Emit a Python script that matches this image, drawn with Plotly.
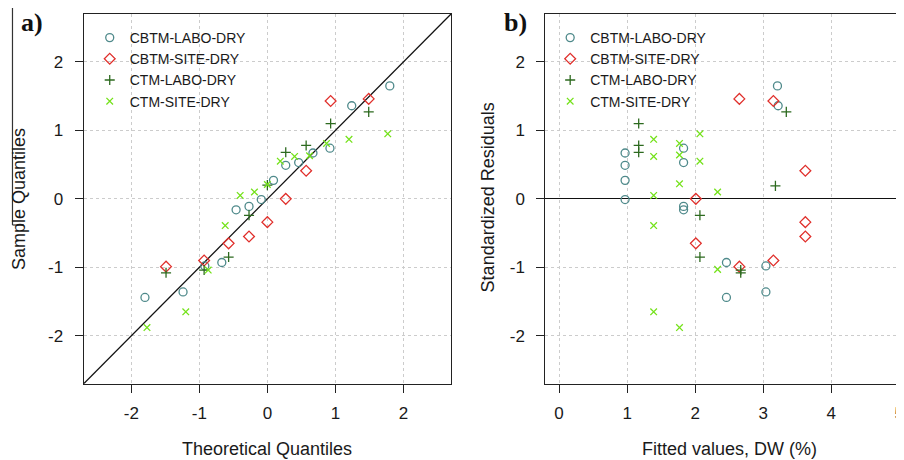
import plotly.graph_objects as go

# ---------------- data ----------------
series_names = ["CBTM-LABO-DRY", "CBTM-SITE-DRY", "CTM-LABO-DRY", "CTM-SITE-DRY"]

# Panel a) normal Q-Q plot: theoretical vs sample quantiles
cbtm_labo_theo = [-1.80, -1.24, -0.92, -0.67, -0.46, -0.27, -0.09, 0.09, 0.27, 0.46, 0.67, 0.92, 1.24, 1.80]
cbtm_labo_sample = [-1.44, -1.36, -0.98, -0.93, -0.16, -0.11, -0.01, 0.27, 0.49, 0.53, 0.67, 0.74, 1.36, 1.65]

cbtm_site_theo = [-1.49, -0.93, -0.57, -0.27, 0.00, 0.27, 0.57, 0.93, 1.49]
cbtm_site_sample = [-0.99, -0.90, -0.65, -0.55, -0.34, 0.00, 0.41, 1.43, 1.46]

ctm_labo_theo = [-1.49, -0.93, -0.57, -0.27, 0.00, 0.27, 0.57, 0.93, 1.49]
ctm_labo_sample = [-1.08, -1.04, -0.85, -0.24, 0.20, 0.68, 0.78, 1.10, 1.27]

ctm_site_theo = [-1.77, -1.20, -0.87, -0.62, -0.40, -0.19, 0.00, 0.19, 0.40, 0.62, 0.87, 1.20, 1.77]
ctm_site_sample = [-1.88, -1.65, -1.04, -0.39, 0.05, 0.10, 0.21, 0.55, 0.62, 0.63, 0.81, 0.87, 0.95]

# Panel b) standardized residuals vs fitted values
cbtm_labo_fitted = [0.97, 0.97, 0.97, 0.97, 1.83, 1.83, 1.83, 1.83, 3.21, 3.22, 2.46, 2.46, 3.04, 3.04]
cbtm_labo_resid = [0.67, 0.49, 0.27, -0.01, 0.74, 0.53, -0.11, -0.16, 1.65, 1.36, -0.93, -1.44, -0.98, -1.36]

cbtm_site_fitted = [2.65, 3.15, 3.62, 2.01, 3.62, 3.62, 2.01, 3.15, 2.65]
cbtm_site_resid = [1.46, 1.43, 0.41, 0.00, -0.34, -0.55, -0.65, -0.90, -0.99]

ctm_labo_fitted = [1.17, 1.17, 1.17, 3.34, 3.18, 2.07, 2.07, 2.67, 2.67]
ctm_labo_resid = [1.10, 0.78, 0.68, 1.27, 0.19, -0.24, -0.85, -1.04, -1.08]

ctm_site_fitted = [1.39, 1.39, 1.39, 1.77, 1.77, 1.77, 2.07, 2.07, 2.33, 1.39, 1.39, 1.77, 2.33]
ctm_site_resid = [0.87, 0.62, 0.05, 0.81, 0.64, 0.22, 0.95, 0.55, 0.10, -0.39, -1.65, -1.88, -1.03]

qq_ticks = [-2, -1, 0, 1, 2]
qq_tick_labels = ["-2", "-1", "0", "1", "2"]
fitted_ticks = [0, 1, 2, 3, 4, 5]
fitted_tick_labels = ["0", "1", "2", "3", "4", "5"]
qqline_intercept = 0.0
qqline_slope = 1.0

# ---------------- styling ----------------
# The page body keeps an 8px default margin, so the figure is 8px smaller
# than the window and all positions below are window pixels minus 8.
OFF = 8
W, H = 904 - OFF, 460 - OFF
FONT = "Liberation Sans, Arial, sans-serif"
SERIF = "Liberation Serif, Times New Roman, serif"
AX = "#222222"
GRID = "#cccccc"

styles = [
    dict(symbol="circle-open", size=8, color="#4f8a8b"),
    dict(symbol="diamond-open", size=8.3, color="#e0302c"),
    dict(symbol="cross-thin-open", size=7.2, color="#2d6a1f"),
    dict(symbol="x-thin-open", size=6.6, color="#74e21a"),
]

left_data = [(cbtm_labo_theo, cbtm_labo_sample), (cbtm_site_theo, cbtm_site_sample),
             (ctm_labo_theo, ctm_labo_sample), (ctm_site_theo, ctm_site_sample)]
right_data = [(cbtm_labo_fitted, cbtm_labo_resid), (cbtm_site_fitted, cbtm_site_resid),
              (ctm_labo_fitted, ctm_labo_resid), (ctm_site_fitted, ctm_site_resid)]

fig = go.Figure()

# qq reference line
xr_left = [-2.7, 2.7]
fig.add_trace(go.Scatter(x=xr_left, y=[qqline_intercept + qqline_slope * v for v in xr_left],
                         mode="lines", line=dict(color="#111111", width=1.3),
                         xaxis="x", yaxis="y", showlegend=False, hoverinfo="skip"))

for name, st, (xs, ys) in zip(series_names, styles, left_data):
    fig.add_trace(go.Scatter(
        x=xs, y=ys, mode="markers", name=name, xaxis="x", yaxis="y", legend="legend",
        marker=dict(symbol=st["symbol"], size=st["size"], color=st["color"],
                    line=dict(color=st["color"], width=1.3))))

for name, st, (xs, ys) in zip(series_names, styles, right_data):
    fig.add_trace(go.Scatter(
        x=xs, y=ys, mode="markers", name=name, xaxis="x2", yaxis="y2", legend="legend2",
        marker=dict(symbol=st["symbol"], size=st["size"], color=st["color"],
                    line=dict(color=st["color"], width=1.3))))


def px_x(p):
    return (p - OFF) / W


def px_y(p):
    return (H - (p - OFF)) / H


ydom = [px_y(383.7), px_y(14)]
common_axis = dict(showline=True, linecolor=AX, linewidth=1.3, ticks="outside", ticklen=8,
                   tickwidth=1.2, tickcolor=AX, showgrid=True, gridcolor=GRID, griddash="dot",
                   gridwidth=1, tickfont=dict(family=FONT, size=17, color="#1a1a1a"),
                   zeroline=False, ticklabeloverflow="allow")

fig.update_layout(
    width=W, height=H,
    margin=dict(l=0, r=0, t=0, b=0),
    paper_bgcolor="white", plot_bgcolor="white",
    font=dict(family=FONT, color="#1a1a1a"),
    xaxis=dict(domain=[px_x(84), px_x(452.5)], range=xr_left, tickvals=qq_ticks,
               ticktext=qq_tick_labels, anchor="y",
               mirror=True, ticklabelstandoff=6, **common_axis),
    yaxis=dict(domain=ydom, range=[-2.7, 2.7], tickvals=qq_ticks, ticktext=qq_tick_labels,
               anchor="x", mirror=True, ticklabelstandoff=8, **common_axis),
    xaxis2=dict(domain=[px_x(547.3), 1.0], range=[-0.2, 5.026], tickvals=fitted_ticks,
                ticktext=fitted_tick_labels, anchor="y2",
                mirror=True, ticklabelstandoff=6, **common_axis),
    yaxis2=dict(domain=ydom, range=[-2.7, 2.7], tickvals=qq_ticks, ticktext=qq_tick_labels,
                anchor="x2", mirror=False, ticklabelstandoff=8,
                **{**common_axis, "zeroline": True}),
    legend=dict(x=px_x(90), y=px_y(22), xanchor="left", yanchor="top",
                bgcolor="rgba(0,0,0,0)", font=dict(family=FONT, size=14, color="#1a1a1a"),
                itemwidth=30),
    legend2=dict(x=px_x(552), y=px_y(22), xanchor="left", yanchor="top",
                 bgcolor="rgba(0,0,0,0)", font=dict(family=FONT, size=14, color="#1a1a1a"),
                 itemwidth=30),
    showlegend=True,
)
fig.update_yaxes(zerolinecolor="#111111", zerolinewidth=1.2, selector=dict(anchor="x2"))

annotations = [
    dict(text="<b>a)</b>", x=px_x(32), y=px_y(22.5), font=dict(family=SERIF, size=26, color="#111")),
    dict(text="<b>b)</b>", x=px_x(517), y=px_y(22.5), font=dict(family=SERIF, size=26, color="#111")),
    dict(text="Theoretical Quantiles", x=px_x(267.5), y=px_y(449), font=dict(family=FONT, size=18)),
    dict(text="Fitted values, DW (%)", x=px_x(731.7), y=px_y(449), font=dict(family=FONT, size=18)),
    dict(text="Sample Quantiles", x=px_x(18.5), y=px_y(198.5), textangle=-90, font=dict(family=FONT, size=18)),
    dict(text="Standardized Residuals", x=px_x(490), y=px_y(197), textangle=-90, font=dict(family=FONT, size=18)),
]
for a in annotations:
    fig.add_annotation(xref="paper", yref="paper", showarrow=False, xanchor="center", yanchor="middle", **a)

# stray frame edge visible at the far left of the original image
fig.add_shape(type="line", xref="paper", yref="paper", x0=px_x(12.5), x1=px_x(12.5),
              y0=px_y(8), y1=px_y(225), line=dict(color="#333333", width=1.2))
fig.add_shape(type="line", xref="paper", yref="paper", x0=px_x(12.5), x1=px_x(24),
              y0=px_y(225), y1=px_y(225), line=dict(color="#333333", width=1.2))

fig.write_html("out.html")
